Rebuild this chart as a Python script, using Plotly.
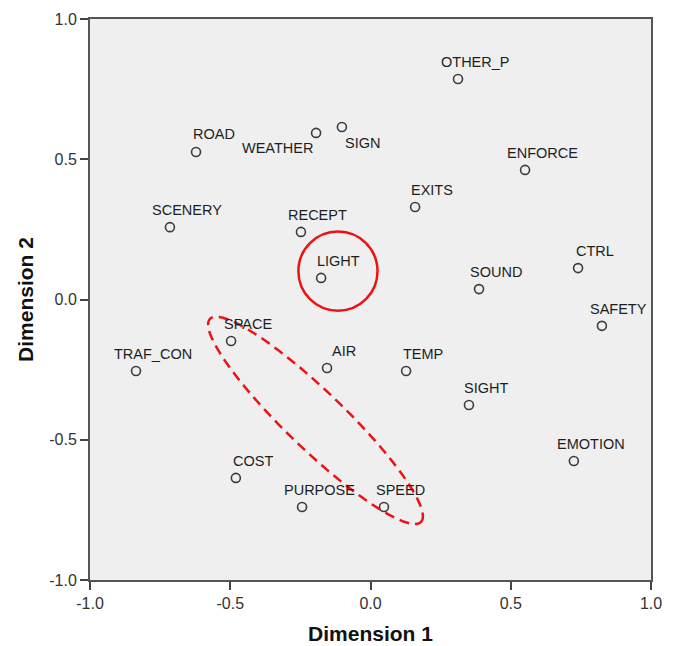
import numpy as np
import plotly.graph_objects as go

labels = ["OTHER_P", "ROAD", "WEATHER", "SIGN", "ENFORCE", "EXITS", "SCENERY",
          "RECEPT", "CTRL", "LIGHT", "SOUND", "SAFETY", "SPACE", "TRAF_CON",
          "AIR", "TEMP", "SIGHT", "EMOTION", "COST", "PURPOSE", "SPEED"]
dim1 = [0.312, -0.622, -0.194, -0.102, 0.551, 0.159, -0.715,
        -0.248, 0.740, -0.176, 0.387, 0.825, -0.497, -0.836,
        -0.155, 0.127, 0.351, 0.725, -0.480, -0.244, 0.048]
dim2 = [0.786, 0.526, 0.594, 0.615, 0.462, 0.330, 0.258,
        0.241, 0.112, 0.077, 0.037, -0.094, -0.148, -0.255,
        -0.244, -0.255, -0.376, -0.576, -0.636, -0.740, -0.740]
tick_vals = [-1.0, -0.5, 0.0, 0.5, 1.0]
tick_text = ["-1.0", "-0.5", "0.0", "0.5", "1.0"]

# label offsets (pixels) — default above-right, special cases
default_shift = (17, 17)
special_shift = {"WEATHER": (-39, -15), "SIGN": (21, -16), "ROAD": (18, 18)}

fig = go.Figure()
fig.add_trace(go.Scatter(
    x=dim1, y=dim2, mode="markers",
    marker=dict(symbol="circle-open", size=9, color="#3c3c3c",
                line=dict(width=1.6, color="#3c3c3c")),
    hoverinfo="text", text=labels, showlegend=False))

for lab, xv, yv in zip(labels, dim1, dim2):
    dx, dy = special_shift.get(lab, default_shift)
    fig.add_annotation(x=xv, y=yv, text=lab, showarrow=False,
                       xshift=dx, yshift=dy,
                       font=dict(family="Liberation Sans, Arial", size=14.5, color="#1e1e1e"))

# red highlight circle
cx, cy, r = -0.116, 0.101, 0.141
fig.add_shape(type="circle", xref="x", yref="y",
              x0=cx - r, x1=cx + r, y0=cy - r, y1=cy + r,
              line=dict(color="#ee1111", width=2.5))

# dashed rotated ellipse
ex, ey, ea, eb, ang = -0.196, -0.431, 0.522, 0.103, np.deg2rad(-43.9)
t = np.linspace(0, 2 * np.pi, 120)
px = ex + ea * np.cos(t) * np.cos(ang) - eb * np.sin(t) * np.sin(ang)
py = ey + ea * np.cos(t) * np.sin(ang) + eb * np.sin(t) * np.cos(ang)
path = "M " + " L ".join(f"{a:.4f},{b:.4f}" for a, b in zip(px, py)) + " Z"
fig.add_shape(type="path", xref="x", yref="y", path=path,
              line=dict(color="#ee1111", width=2.5, dash="10px,6px"))

axis_common = dict(range=[-1.0, 1.0], tickvals=tick_vals, ticktext=tick_text,
                   showgrid=False, zeroline=False, ticks="outside", ticklen=8,
                   tickwidth=2, tickcolor="#444444", showline=True, linewidth=2,
                   linecolor="#555555", mirror=True, automargin=False,
                   tickfont=dict(family="Liberation Sans, Arial", size=16, color="#333333"))

fig.update_xaxes(**axis_common,
                 title=dict(text="<b>Dimension 1</b>", standoff=15,
                            font=dict(family="Liberation Sans, Arial", size=21, color="#111111")))
fig.update_yaxes(**axis_common,
                 title=dict(text="<b>Dimension 2</b>", standoff=10,
                            font=dict(family="Liberation Sans, Arial", size=21, color="#111111")))

fig.update_layout(width=666, height=638,
                  margin=dict(l=82, r=23, t=11, b=66, autoexpand=False),
                  paper_bgcolor="white", plot_bgcolor="#efefef")

fig.write_html("out.html")
